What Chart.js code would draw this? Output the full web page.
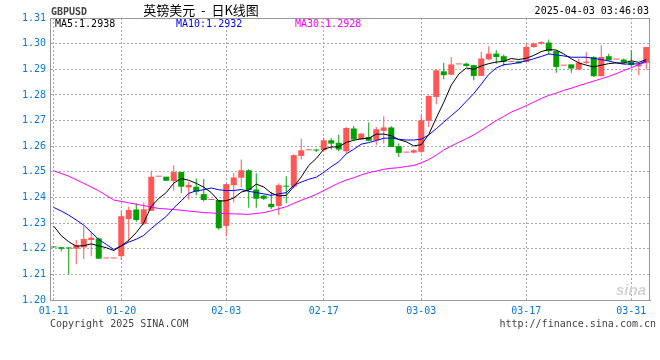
<!DOCTYPE html>
<html>
<head>
<meta charset="utf-8">
<script src="https://cdn.jsdelivr.net/npm/chart.js@4.4.1/dist/chart.umd.min.js"></script>
<style>
  html, body { margin: 0; padding: 0; background: #fff; }
  #box { width: 660px; height: 360px; }
</style>
</head>
<body>
<div id="box"><canvas id="kline" width="660" height="360"></canvas></div>
<script>
// GBPUSD daily K line, 2025-01-11 .. 2025-04-02
var dates = [
  '01-11','01-12','01-13','01-14','01-15','01-16','01-17','01-18','01-19','01-20',
  '01-21','01-22','01-23','01-24','01-25','01-26','01-27','01-28','01-29','01-30',
  '01-31','02-01','02-02','02-03','02-04','02-05','02-06','02-07','02-08','02-10',
  '02-11','02-12','02-13','02-14','02-15','02-16','02-17','02-18','02-19','02-20',
  '02-21','02-22','02-24','02-25','02-26','02-27','02-28','03-01','03-02','03-03',
  '03-04','03-05','03-06','03-07','03-08','03-09','03-10','03-11','03-12','03-13',
  '03-14','03-15','03-16','03-17','03-18','03-19','03-20','03-21','03-22','03-23',
  '03-24','03-25','03-26','03-27','03-28','03-29','03-30','03-31','04-01','04-02'
];
var tickDates = ['01-11','01-20','02-03','02-17','03-03','03-17','03-31'];

var open = [
  1.2206,1.2206,1.2205,1.2200,1.2205,1.2234,1.2240,1.2162,1.2162,1.2171,
  1.2316,1.2353,1.2297,1.2348,1.2481,1.2481,1.2464,1.2499,1.2439,1.2442,
  1.2413,1.2390,1.2390,1.2289,1.2448,1.2477,1.2506,1.2431,1.2407,1.2375,
  1.2367,1.2444,1.2442,1.2562,1.2584,1.2584,1.2584,1.2623,1.2613,1.2580,
  1.2669,1.2626,1.2636,1.2623,1.2660,1.2673,1.2600,1.2575,1.2575,1.2578,
  1.2699,1.2792,1.2892,1.2879,1.2919,1.2922,1.2916,1.2874,1.2939,1.2961,
  1.2951,1.2929,1.2931,1.2929,1.2987,1.3000,1.3004,1.2971,1.2914,1.2919,
  1.2899,1.2925,1.2948,1.2873,1.2951,1.2938,1.2938,1.2929,1.2912,1.2925
];
var high = [
  1.2206,1.2206,1.2206,1.2234,1.2288,1.2266,1.2244,1.2162,1.2162,1.2347,
  1.2364,1.2377,1.2380,1.2504,1.2481,1.2481,1.2526,1.2499,1.2461,1.2474,
  1.2472,1.2390,1.2390,1.2452,1.2496,1.2548,1.2510,1.2494,1.2410,1.2422,
  1.2455,1.2483,1.2569,1.2629,1.2584,1.2590,1.2633,1.2632,1.2645,1.2675,
  1.2679,1.2651,1.2692,1.2675,1.2717,1.2678,1.2610,1.2575,1.2588,1.2725,
  1.2799,1.2899,1.2925,1.2948,1.2919,1.2925,1.2918,1.2968,1.2990,1.2974,
  1.2958,1.2929,1.2931,1.3000,1.3004,1.3010,1.3016,1.2974,1.2914,1.2919,
  1.2942,1.2968,1.2951,1.2994,1.2961,1.2938,1.2942,1.2974,1.2925,1.2987
];
var low = [
  1.2205,1.2190,1.2100,1.2139,1.2160,1.2171,1.2161,1.2162,1.2162,1.2156,
  1.2227,1.2305,1.2292,1.2348,1.2481,1.2465,1.2426,1.2416,1.2392,1.2409,
  1.2384,1.2390,1.2274,1.2248,1.2380,1.2439,1.2360,1.2360,1.2390,1.2355,
  1.2332,1.2377,1.2435,1.2548,1.2584,1.2577,1.2578,1.2587,1.2580,1.2571,
  1.2623,1.2624,1.2619,1.2604,1.2610,1.2597,1.2558,1.2575,1.2571,1.2574,
  1.2675,1.2764,1.2861,1.2877,1.2919,1.2910,1.2857,1.2874,1.2935,1.2922,
  1.2912,1.2929,1.2923,1.2929,1.2984,1.2997,1.2958,1.2886,1.2914,1.2886,
  1.2896,1.2920,1.2870,1.2873,1.2932,1.2938,1.2923,1.2912,1.2877,1.2899
];
var close = [
  1.2205,1.2200,1.2201,1.2214,1.2238,1.2243,1.2161,1.2162,1.2162,1.2327,
  1.2351,1.2312,1.2354,1.2481,1.2481,1.2465,1.2499,1.2442,1.2449,1.2422,
  1.2390,1.2390,1.2280,1.2452,1.2478,1.2506,1.2429,1.2395,1.2395,1.2362,
  1.2448,1.2442,1.2565,1.2584,1.2584,1.2583,1.2623,1.2610,1.2587,1.2671,
  1.2626,1.2649,1.2621,1.2666,1.2673,1.2597,1.2574,1.2575,1.2584,1.2701,
  1.2796,1.2896,1.2877,1.2919,1.2919,1.2913,1.2874,1.2942,1.2961,1.2948,
  1.2929,1.2929,1.2923,1.2987,1.3000,1.3006,1.2971,1.2909,1.2914,1.2903,
  1.2926,1.2930,1.2873,1.2948,1.2935,1.2938,1.2926,1.2916,1.2918,1.2987
];

var ma5 = [
  1.2288,1.2251,1.2227,1.2210,1.2212,1.2219,1.2211,1.2204,1.2193,1.2211,
  1.2233,1.2263,1.2301,1.2365,1.2396,1.2419,1.2456,1.2474,1.2467,1.2455,
  1.2440,1.2419,1.2386,1.2387,1.2398,1.2421,1.2429,1.2452,1.2441,1.2417,
  1.2406,1.2408,1.2442,1.2480,1.2525,1.2552,1.2588,1.2597,1.2597,1.2615,
  1.2623,1.2629,1.2631,1.2647,1.2647,1.2641,1.2626,1.2617,1.2601,1.2606,
  1.2646,1.2710,1.2771,1.2838,1.2881,1.2905,1.2900,1.2913,1.2922,1.2928,
  1.2931,1.2942,1.2938,1.2943,1.2954,1.2969,1.2977,1.2975,1.2960,1.2941,
  1.2925,1.2916,1.2909,1.2916,1.2922,1.2925,1.2924,1.2933,1.2927,1.2938
];
var ma10 = [
  1.2361,1.2347,1.2331,1.2312,1.2292,1.2264,1.2236,1.2217,1.2197,1.2211,
  1.2226,1.2237,1.2252,1.2279,1.2303,1.2326,1.2359,1.2387,1.2416,1.2426,
  1.2430,1.2437,1.2430,1.2427,1.2427,1.2431,1.2424,1.2419,1.2414,1.2408,
  1.2414,1.2419,1.2447,1.2460,1.2471,1.2479,1.2498,1.2520,1.2539,1.2570,
  1.2588,1.2608,1.2614,1.2622,1.2631,1.2632,1.2627,1.2624,1.2624,1.2627,
  1.2644,1.2668,1.2694,1.2719,1.2744,1.2775,1.2805,1.2842,1.2880,1.2905,
  1.2918,1.2921,1.2926,1.2933,1.2941,1.2950,1.2960,1.2956,1.2952,1.2947,
  1.2947,1.2947,1.2942,1.2938,1.2932,1.2925,1.2920,1.2921,1.2921,1.2932
];
var ma30 = [
  1.2504,null,1.2483,null,1.2455,null,1.2426,null,1.2390,null,
  1.2379,null,1.2368,null,1.2357,null,1.2353,null,1.2347,null,
  1.2341,null,1.2338,null,1.2336,null,1.2334,null,1.2341,1.2348,
  1.2356,1.2364,1.2377,1.2389,1.2400,1.2412,1.2427,1.2442,1.2456,1.2468,
  1.2477,1.2488,1.2497,1.2503,1.2510,1.2514,1.2516,1.2521,1.2525,1.2535,
  1.2548,1.2565,1.2585,1.2601,1.2615,1.2629,1.2644,1.2662,1.2681,1.2700,
  1.2716,1.2733,1.2745,1.2758,1.2772,1.2786,1.2798,1.2807,1.2818,1.2826,
  1.2836,1.2845,1.2854,1.2863,1.2872,1.2883,1.2895,1.2906,1.2918,1.2928
];

var upColor = '#ff5656';
var downColor = '#00a000';
var axisBlue = '#0a78d2';
var mono = '"DejaVu Sans Mono", monospace';

function candleColor(c) {
  var i = c.dataIndex;
  return close[i] >= open[i] ? upColor : downColor;
}

var decor = {
  id: 'decor',
  afterDraw: function (chart) {
    var ctx = chart.ctx, a = chart.chartArea;
    ctx.save();
    ctx.strokeStyle = '#999';
    ctx.lineWidth = 1;
    ctx.strokeRect(Math.round(a.left) + 0.5, Math.round(a.top) + 0.5,
      Math.round(a.right - a.left) - 1, Math.round(a.bottom - a.top));

    ctx.textBaseline = 'middle';
    ctx.font = 'bold 10px ' + mono;
    ctx.fillStyle = '#444';
    ctx.textAlign = 'left';
    ctx.fillText('GBPUSD', 51, 12);

    ctx.font = '13px "Noto Sans CJK SC"';
    ctx.fillStyle = '#000';
    ctx.textAlign = 'center';
    ctx.fillText('英镑美元  -  日K线图', 201, 10);

    ctx.font = '10px ' + mono;
    ctx.textAlign = 'right';
    ctx.fillText('2025-04-03 03:46:03', 649, 11);

    ctx.textAlign = 'left';
    ctx.fillStyle = '#000';
    ctx.fillText('MA5:' + ma5[ma5.length - 1].toFixed(4), 55, 24);
    ctx.fillStyle = '#0000ff';
    ctx.fillText('MA10:' + ma10[ma10.length - 1].toFixed(4), 176, 24);
    ctx.fillStyle = '#ff00ff';
    ctx.fillText('MA30:' + ma30[ma30.length - 1].toFixed(4), 295, 24);

    ctx.fillStyle = '#444';
    ctx.fillText('Copyright 2025 SINA.COM', 50, 324);
    ctx.textAlign = 'right';
    ctx.fillText('http://finance.sina.com.cn', 656, 324);

    ctx.font = 'italic bold 15px "Liberation Sans"';
    ctx.fillStyle = '#d2d2d2';
    ctx.textAlign = 'center';
    ctx.fillText('sina', 631, 291);
    ctx.restore();
  }
};

new Chart(document.getElementById('kline'), {
  type: 'bar',
  data: {
    labels: dates,
    datasets: [
      { type: 'line', label: 'MA5', data: ma5, borderColor: '#000', borderWidth: 1,
        pointRadius: 0, tension: 0, spanGaps: true, order: 0 },
      { type: 'line', label: 'MA10', data: ma10, borderColor: '#0000ff', borderWidth: 1,
        pointRadius: 0, tension: 0, spanGaps: true, order: 0 },
      { type: 'line', label: 'MA30', data: ma30, borderColor: '#ff00ff', borderWidth: 1,
        pointRadius: 0, tension: 0, spanGaps: true, order: 0 },
      { label: 'body', data: dates.map(function (d, i) { return [open[i], close[i]]; }),
        backgroundColor: candleColor, barThickness: 6, minBarLength: 1,
        grouped: false, inflateAmount: 0, borderWidth: 0, order: 1 },
      { label: 'wick', data: dates.map(function (d, i) { return [low[i], high[i]]; }),
        backgroundColor: candleColor, barThickness: 1,
        grouped: false, inflateAmount: 0, borderWidth: 0, order: 2 }
    ]
  },
  options: {
    responsive: false,
    animation: false,
    devicePixelRatio: 1,
    layout: { padding: { top: 18, right: 10, left: 0, bottom: 0 } },
    plugins: { legend: { display: false }, tooltip: { enabled: false } },
    scales: {
      x: {
        offset: true,
        afterFit: function (s) { s.height = 60; },
        grid: {
          offset: false,
          drawTicks: false,
          color: function (c) { return tickDates.indexOf(dates[c.index]) >= 0 ? '#aaa' : 'rgba(0,0,0,0)'; }
        },
        border: { color: '#999', dash: [2, 2] },
        ticks: {
          autoSkip: false, maxRotation: 0, padding: 5, color: axisBlue,
          font: { family: mono, size: 10 },
          callback: function (v, i) { return tickDates.indexOf(dates[i]) >= 0 ? dates[i] : ''; }
        }
      },
      y: {
        min: 1.20, max: 1.31,
        afterFit: function (s) { s.width = 50; },
        grid: { color: '#aaa', drawTicks: false },
        border: { color: '#999', dash: [2, 2] },
        ticks: {
          stepSize: 0.01, padding: 4, color: axisBlue,
          font: { family: mono, size: 10 },
          callback: function (v) { return v.toFixed(2); }
        }
      }
    }
  },
  plugins: [decor]
});
</script>
</body>
</html>
